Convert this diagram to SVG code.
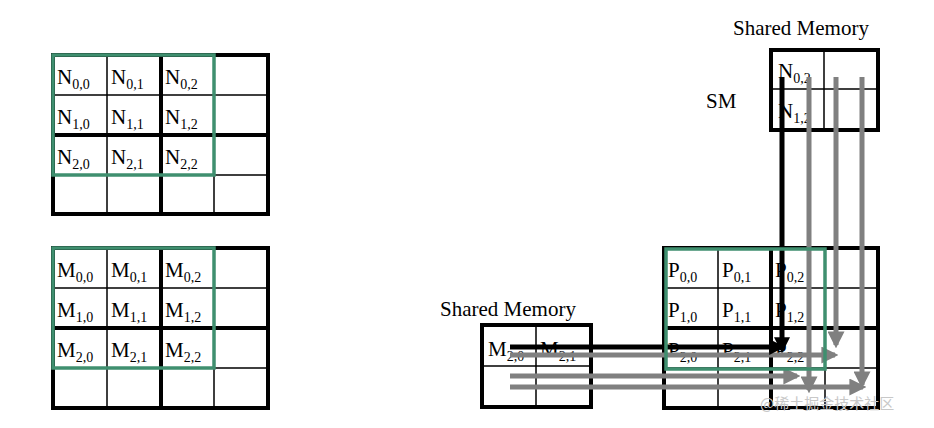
<svg xmlns="http://www.w3.org/2000/svg" width="934" height="428" viewBox="0 0 934 428">
<defs>
<style>
.t{font-family:"Liberation Serif","DejaVu Serif",serif;font-size:21px;fill:#000}
.s{font-size:14px}
.thin{stroke:#000;stroke-width:1.5;fill:none}
.thick{stroke:#000;stroke-width:4;fill:none}
.green{stroke:#3f8f6f;stroke-width:3.5;fill:none}
.ga{stroke:#808080;stroke-width:5;fill:none;marker-end:url(#gh)}
.ba{stroke:#000;stroke-width:5;fill:none;marker-end:url(#bh)}
</style>
<marker id="gh" viewBox="0 0 10 10" refX="8" refY="5" markerWidth="3.4" markerHeight="3.4" orient="auto"><path d="M0,0L10,5L0,10z" fill="#808080"/></marker>
<marker id="bh" viewBox="0 0 10 10" refX="8" refY="5" markerWidth="3.2" markerHeight="3.2" orient="auto"><path d="M0,0L10,5L0,10z" fill="#000"/></marker>
</defs>
<rect width="934" height="428" fill="#fff"/>
<g id="matN">
<path class="thin" d="M107,55V214M214,55V214M53,95H268M53,175H268"/>
<path class="thick" d="M161,55V214M53,135H268"/>
<rect class="thick" x="53" y="55" width="215" height="159"/>
<rect class="green" x="53" y="55" width="161" height="120"/>
<g class="t">
<text x="57" y="84">N<tspan class="s" dy="5">0,0</tspan></text><text x="111" y="84">N<tspan class="s" dy="5">0,1</tspan></text><text x="165" y="84">N<tspan class="s" dy="5">0,2</tspan></text>
<text x="57" y="124">N<tspan class="s" dy="5">1,0</tspan></text><text x="111" y="124">N<tspan class="s" dy="5">1,1</tspan></text><text x="165" y="124">N<tspan class="s" dy="5">1,2</tspan></text>
<text x="57" y="164">N<tspan class="s" dy="5">2,0</tspan></text><text x="111" y="164">N<tspan class="s" dy="5">2,1</tspan></text><text x="165" y="164">N<tspan class="s" dy="5">2,2</tspan></text>
</g>
</g>
<g id="matM">
<path class="thin" d="M107,248V408M214,248V408M53,288H268M53,368H268"/>
<path class="thick" d="M161,248V408M53,328H268"/>
<rect class="thick" x="53" y="248" width="215" height="160"/>
<rect class="green" x="53" y="248" width="161" height="120"/>
<g class="t">
<text x="57" y="277">M<tspan class="s" dy="5">0,0</tspan></text><text x="111" y="277">M<tspan class="s" dy="5">0,1</tspan></text><text x="165" y="277">M<tspan class="s" dy="5">0,2</tspan></text>
<text x="57" y="317">M<tspan class="s" dy="5">1,0</tspan></text><text x="111" y="317">M<tspan class="s" dy="5">1,1</tspan></text><text x="165" y="317">M<tspan class="s" dy="5">1,2</tspan></text>
<text x="57" y="357">M<tspan class="s" dy="5">2,0</tspan></text><text x="111" y="357">M<tspan class="s" dy="5">2,1</tspan></text><text x="165" y="357">M<tspan class="s" dy="5">2,2</tspan></text>
</g>
</g>
<g id="matP">
<path class="thin" d="M718,248V408M825,248V408M664,288H878M664,368H878"/>
<path class="thick" d="M771,248V408M664,328H878"/>
<rect class="thick" x="664" y="248" width="214" height="160"/>
<g class="t">
<text x="668" y="277">P<tspan class="s" dy="5">0,0</tspan></text><text x="722" y="277">P<tspan class="s" dy="5">0,1</tspan></text><text x="775" y="277">P<tspan class="s" dy="5">0,2</tspan></text>
<text x="668" y="317">P<tspan class="s" dy="5">1,0</tspan></text><text x="722" y="317">P<tspan class="s" dy="5">1,1</tspan></text><text x="775" y="317">P<tspan class="s" dy="5">1,2</tspan></text>
<text x="668" y="357">P<tspan class="s" dy="5">2,0</tspan></text><text x="722" y="357">P<tspan class="s" dy="5">2,1</tspan></text><text x="775" y="357">P<tspan class="s" dy="5">2,2</tspan></text>
</g>
</g>
<g id="smN">
<text class="t" x="733" y="35">Shared Memory</text>
<text class="t" x="706" y="108">SM</text>
<path class="thin" d="M824,50V130M771,89H878"/>
<rect class="thick" x="771" y="50" width="107" height="80"/>
<g class="t"><text x="778" y="78">N<tspan class="s" dy="5">0,2</tspan></text><text x="778" y="118">N<tspan class="s" dy="5">1,2</tspan></text></g>
</g>
<g id="smM">
<text class="t" x="440" y="316">Shared Memory</text>
<path class="thin" d="M536,325V407M482,366H591"/>
<rect class="thick" x="482" y="325" width="109" height="82"/>
<g class="t"><text x="488" y="356">M<tspan class="s" dy="5">2,0</tspan></text><text x="540" y="356">M<tspan class="s" dy="5">2,1</tspan></text></g>
</g>
<g id="connectors">
<path class="ga" d="M809,77V390"/>
<path class="ga" d="M836,77V345"/>
<path class="ga" d="M862,77V385"/>
<path class="ga" d="M510,355H835"/>
<path class="ga" d="M510,376H797"/>
<path class="ga" d="M510,387H863"/>
<path class="ba" d="M782,77V350"/>
<path class="ba" d="M510,347H782"/>
</g>
<rect class="green" x="666" y="249" width="159" height="120"/>
<text x="760" y="409" font-family="'Noto Sans CJK SC',sans-serif" font-size="15" fill="#c8c8c8">@稀土掘金技术社区</text>
</svg>
